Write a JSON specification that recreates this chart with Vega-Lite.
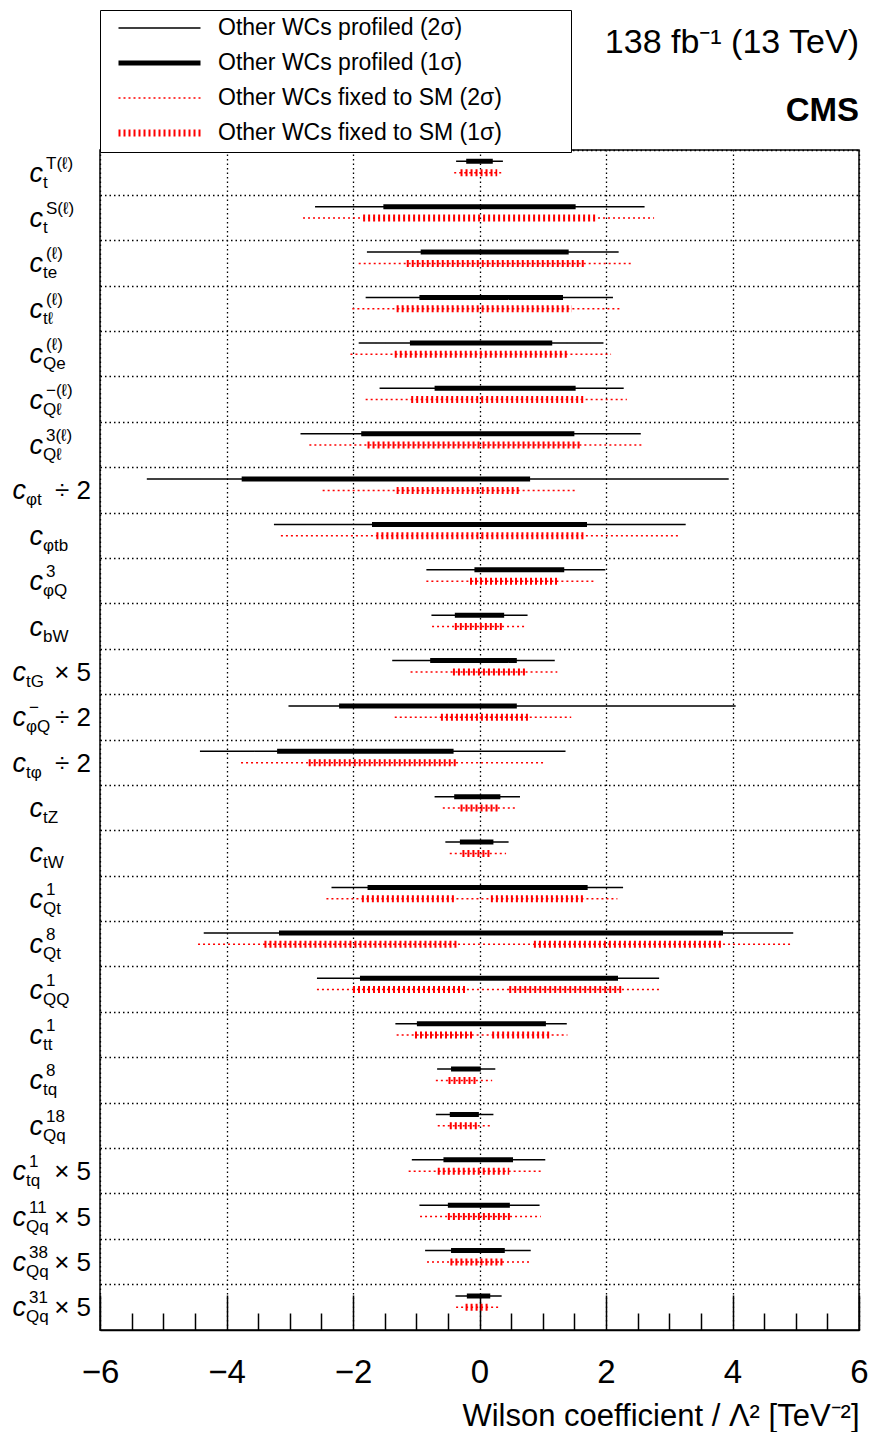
{
  "$schema": "https://vega.github.io/schema/vega-lite/v6.json",
  "width": 759,
  "height": 1180,
  "autosize": "none",
  "padding": {"left": 100, "top": 150, "right": 12, "bottom": 102},
  "background": "white",
  "title": {
    "text": "138 fb⁻¹ (13 TeV)",
    "subtitle": "CMS",
    "anchor": "end",
    "frame": "group",
    "orient": "top",
    "font": "Liberation Sans",
    "fontSize": 34,
    "fontWeight": "normal",
    "color": "black",
    "subtitleFont": "Liberation Sans",
    "subtitleFontSize": 33,
    "subtitleFontWeight": "bold",
    "subtitleColor": "black",
    "subtitlePadding": 35,
    "offset": -118
  },
  "config": {
    "view": {"stroke": "black", "strokeWidth": 1.5},
    "font": "Liberation Sans",
    "axis": {
      "labelFont": "Liberation Sans",
      "titleFont": "Liberation Sans",
      "labelColor": "black",
      "titleColor": "black",
      "tickColor": "black",
      "domainColor": "black",
      "gridColor": "black",
      "gridDash": [1.5, 3],
      "gridWidth": 1.3,
      "gridOpacity": 1
    },
    "axisY": {
      "labels": false,
      "ticks": false,
      "domain": false,
      "grid": true,
      "bandPosition": 0
    },
    "legend": {
      "labelFont": "Liberation Sans"
    }
  },
  "datasets": {
    "coefs": [
      {"id": "c_t^T(ℓ)", "sub": "t", "sup": "T(ℓ)", "suf": ""},
      {"id": "c_t^S(ℓ)", "sub": "t", "sup": "S(ℓ)", "suf": ""},
      {"id": "c_te^(ℓ)", "sub": "te", "sup": "(ℓ)", "suf": ""},
      {"id": "c_tℓ^(ℓ)", "sub": "tℓ", "sup": "(ℓ)", "suf": ""},
      {"id": "c_Qe^(ℓ)", "sub": "Qe", "sup": "(ℓ)", "suf": ""},
      {"id": "c_Qℓ^-(ℓ)", "sub": "Qℓ", "sup": "−(ℓ)", "suf": ""},
      {"id": "c_Qℓ^3(ℓ)", "sub": "Qℓ", "sup": "3(ℓ)", "suf": ""},
      {"id": "c_φt/2", "sub": "φt", "sup": "", "suf": "÷ 2"},
      {"id": "c_φtb", "sub": "φtb", "sup": "", "suf": ""},
      {"id": "c_φQ^3", "sub": "φQ", "sup": "3", "suf": ""},
      {"id": "c_bW", "sub": "bW", "sup": "", "suf": ""},
      {"id": "c_tG*5", "sub": "tG", "sup": "", "suf": "× 5"},
      {"id": "c_φQ^-/2", "sub": "φQ", "sup": "−", "suf": "÷ 2"},
      {"id": "c_tφ/2", "sub": "tφ", "sup": "", "suf": "÷ 2"},
      {"id": "c_tZ", "sub": "tZ", "sup": "", "suf": ""},
      {"id": "c_tW", "sub": "tW", "sup": "", "suf": ""},
      {"id": "c_Qt^1", "sub": "Qt", "sup": "1", "suf": ""},
      {"id": "c_Qt^8", "sub": "Qt", "sup": "8", "suf": ""},
      {"id": "c_QQ^1", "sub": "QQ", "sup": "1", "suf": ""},
      {"id": "c_tt^1", "sub": "tt", "sup": "1", "suf": ""},
      {"id": "c_tq^8", "sub": "tq", "sup": "8", "suf": ""},
      {"id": "c_Qq^18", "sub": "Qq", "sup": "18", "suf": ""},
      {"id": "c_tq^1*5", "sub": "tq", "sup": "1", "suf": "× 5"},
      {"id": "c_Qq^11*5", "sub": "Qq", "sup": "11", "suf": "× 5"},
      {"id": "c_Qq^38*5", "sub": "Qq", "sup": "38", "suf": "× 5"},
      {"id": "c_Qq^31*5", "sub": "Qq", "sup": "31", "suf": "× 5"}
    ],
    "intervals": [
      {"id": "c_t^T(ℓ)", "series": "Other WCs profiled (2σ)", "lo": -0.37, "hi": 0.37},
      {"id": "c_t^T(ℓ)", "series": "Other WCs profiled (1σ)", "lo": -0.21, "hi": 0.21},
      {"id": "c_t^T(ℓ)", "series": "Other WCs fixed to SM (2σ)", "lo": -0.40, "hi": 0.39},
      {"id": "c_t^T(ℓ)", "series": "Other WCs fixed to SM (1σ)", "lo": -0.30, "hi": 0.28},
      {"id": "c_t^S(ℓ)", "series": "Other WCs profiled (2σ)", "lo": -2.60, "hi": 2.61},
      {"id": "c_t^S(ℓ)", "series": "Other WCs profiled (1σ)", "lo": -1.52, "hi": 1.52},
      {"id": "c_t^S(ℓ)", "series": "Other WCs fixed to SM (2σ)", "lo": -2.79, "hi": 2.76},
      {"id": "c_t^S(ℓ)", "series": "Other WCs fixed to SM (1σ)", "lo": -1.84, "hi": 1.85},
      {"id": "c_te^(ℓ)", "series": "Other WCs profiled (2σ)", "lo": -1.78, "hi": 2.20},
      {"id": "c_te^(ℓ)", "series": "Other WCs profiled (1σ)", "lo": -0.93, "hi": 1.41},
      {"id": "c_te^(ℓ)", "series": "Other WCs fixed to SM (2σ)", "lo": -1.91, "hi": 2.40},
      {"id": "c_te^(ℓ)", "series": "Other WCs fixed to SM (1σ)", "lo": -1.15, "hi": 1.65},
      {"id": "c_tℓ^(ℓ)", "series": "Other WCs profiled (2σ)", "lo": -1.80, "hi": 2.11},
      {"id": "c_tℓ^(ℓ)", "series": "Other WCs profiled (1σ)", "lo": -0.95, "hi": 1.32},
      {"id": "c_tℓ^(ℓ)", "series": "Other WCs fixed to SM (2σ)", "lo": -2.01, "hi": 2.22},
      {"id": "c_tℓ^(ℓ)", "series": "Other WCs fixed to SM (1σ)", "lo": -1.31, "hi": 1.46},
      {"id": "c_Qe^(ℓ)", "series": "Other WCs profiled (2σ)", "lo": -1.91, "hi": 1.96},
      {"id": "c_Qe^(ℓ)", "series": "Other WCs profiled (1σ)", "lo": -1.10, "hi": 1.15},
      {"id": "c_Qe^(ℓ)", "series": "Other WCs fixed to SM (2σ)", "lo": -2.04, "hi": 2.08},
      {"id": "c_Qe^(ℓ)", "series": "Other WCs fixed to SM (1σ)", "lo": -1.34, "hi": 1.41},
      {"id": "c_Qℓ^-(ℓ)", "series": "Other WCs profiled (2σ)", "lo": -1.58, "hi": 2.28},
      {"id": "c_Qℓ^-(ℓ)", "series": "Other WCs profiled (1σ)", "lo": -0.71, "hi": 1.52},
      {"id": "c_Qℓ^-(ℓ)", "series": "Other WCs fixed to SM (2σ)", "lo": -1.80, "hi": 2.33},
      {"id": "c_Qℓ^-(ℓ)", "series": "Other WCs fixed to SM (1σ)", "lo": -1.08, "hi": 1.65},
      {"id": "c_Qℓ^3(ℓ)", "series": "Other WCs profiled (2σ)", "lo": -2.83, "hi": 2.55},
      {"id": "c_Qℓ^3(ℓ)", "series": "Other WCs profiled (1σ)", "lo": -1.87, "hi": 1.50},
      {"id": "c_Qℓ^3(ℓ)", "series": "Other WCs fixed to SM (2σ)", "lo": -2.69, "hi": 2.58},
      {"id": "c_Qℓ^3(ℓ)", "series": "Other WCs fixed to SM (1σ)", "lo": -1.77, "hi": 1.60},
      {"id": "c_φt/2", "series": "Other WCs profiled (2σ)", "lo": -5.26, "hi": 3.94},
      {"id": "c_φt/2", "series": "Other WCs profiled (1σ)", "lo": -3.76, "hi": 0.80},
      {"id": "c_φt/2", "series": "Other WCs fixed to SM (2σ)", "lo": -2.48, "hi": 1.55},
      {"id": "c_φt/2", "series": "Other WCs fixed to SM (1σ)", "lo": -1.31, "hi": 0.66},
      {"id": "c_φtb", "series": "Other WCs profiled (2σ)", "lo": -3.25, "hi": 3.26},
      {"id": "c_φtb", "series": "Other WCs profiled (1σ)", "lo": -1.70, "hi": 1.70},
      {"id": "c_φtb", "series": "Other WCs fixed to SM (2σ)", "lo": -3.14, "hi": 3.16},
      {"id": "c_φtb", "series": "Other WCs fixed to SM (1σ)", "lo": -1.63, "hi": 1.65},
      {"id": "c_φQ^3", "series": "Other WCs profiled (2σ)", "lo": -0.84, "hi": 1.99},
      {"id": "c_φQ^3", "series": "Other WCs profiled (1σ)", "lo": -0.08, "hi": 1.34},
      {"id": "c_φQ^3", "series": "Other WCs fixed to SM (2σ)", "lo": -0.84, "hi": 1.84},
      {"id": "c_φQ^3", "series": "Other WCs fixed to SM (1σ)", "lo": -0.15, "hi": 1.25},
      {"id": "c_bW", "series": "Other WCs profiled (2σ)", "lo": -0.76, "hi": 0.76},
      {"id": "c_bW", "series": "Other WCs profiled (1σ)", "lo": -0.39, "hi": 0.39},
      {"id": "c_bW", "series": "Other WCs fixed to SM (2σ)", "lo": -0.75, "hi": 0.71},
      {"id": "c_bW", "series": "Other WCs fixed to SM (1σ)", "lo": -0.39, "hi": 0.39},
      {"id": "c_tG*5", "series": "Other WCs profiled (2σ)", "lo": -1.38, "hi": 1.19},
      {"id": "c_tG*5", "series": "Other WCs profiled (1σ)", "lo": -0.78, "hi": 0.59},
      {"id": "c_tG*5", "series": "Other WCs fixed to SM (2σ)", "lo": -1.09, "hi": 1.23},
      {"id": "c_tG*5", "series": "Other WCs fixed to SM (1σ)", "lo": -0.42, "hi": 0.75},
      {"id": "c_φQ^-/2", "series": "Other WCs profiled (2σ)", "lo": -3.02, "hi": 4.05},
      {"id": "c_φQ^-/2", "series": "Other WCs profiled (1σ)", "lo": -2.22, "hi": 0.59},
      {"id": "c_φQ^-/2", "series": "Other WCs fixed to SM (2σ)", "lo": -1.34, "hi": 1.45},
      {"id": "c_φQ^-/2", "series": "Other WCs fixed to SM (1σ)", "lo": -0.61, "hi": 0.77},
      {"id": "c_tφ/2", "series": "Other WCs profiled (2σ)", "lo": -4.42, "hi": 1.36},
      {"id": "c_tφ/2", "series": "Other WCs profiled (1σ)", "lo": -3.20, "hi": -0.41},
      {"id": "c_tφ/2", "series": "Other WCs fixed to SM (2σ)", "lo": -3.77, "hi": 1.02},
      {"id": "c_tφ/2", "series": "Other WCs fixed to SM (1σ)", "lo": -2.70, "hi": -0.37},
      {"id": "c_tZ", "series": "Other WCs profiled (2σ)", "lo": -0.71, "hi": 0.64},
      {"id": "c_tZ", "series": "Other WCs profiled (1σ)", "lo": -0.40, "hi": 0.33},
      {"id": "c_tZ", "series": "Other WCs fixed to SM (2σ)", "lo": -0.58, "hi": 0.59},
      {"id": "c_tZ", "series": "Other WCs fixed to SM (1σ)", "lo": -0.30, "hi": 0.30},
      {"id": "c_tW", "series": "Other WCs profiled (2σ)", "lo": -0.54, "hi": 0.46},
      {"id": "c_tW", "series": "Other WCs profiled (1σ)", "lo": -0.31, "hi": 0.22},
      {"id": "c_tW", "series": "Other WCs fixed to SM (2σ)", "lo": -0.47, "hi": 0.42},
      {"id": "c_tW", "series": "Other WCs fixed to SM (1σ)", "lo": -0.27, "hi": 0.16},
      {"id": "c_Qt^1", "series": "Other WCs profiled (2σ)", "lo": -2.34, "hi": 2.27},
      {"id": "c_Qt^1", "series": "Other WCs profiled (1σ)", "lo": -1.77, "hi": 1.71},
      {"id": "c_Qt^1", "series": "Other WCs fixed to SM (2σ)", "lo": -2.42, "hi": 2.18},
      {"id": "c_Qt^1", "series": "Other WCs fixed to SM (1σ)", "lo": -1.86, "hi": -0.40},
      {"id": "c_Qt^1", "series": "Other WCs fixed to SM (1σ)", "lo": 0.18, "hi": 1.65},
      {"id": "c_Qt^8", "series": "Other WCs profiled (2σ)", "lo": -4.36, "hi": 4.96},
      {"id": "c_Qt^8", "series": "Other WCs profiled (1σ)", "lo": -3.17, "hi": 3.85},
      {"id": "c_Qt^8", "series": "Other WCs fixed to SM (2σ)", "lo": -4.45, "hi": 4.91},
      {"id": "c_Qt^8", "series": "Other WCs fixed to SM (1σ)", "lo": -3.40, "hi": -0.33},
      {"id": "c_Qt^8", "series": "Other WCs fixed to SM (1σ)", "lo": 0.86, "hi": 3.85},
      {"id": "c_QQ^1", "series": "Other WCs profiled (2σ)", "lo": -2.57, "hi": 2.84},
      {"id": "c_QQ^1", "series": "Other WCs profiled (1σ)", "lo": -1.89, "hi": 2.19},
      {"id": "c_QQ^1", "series": "Other WCs fixed to SM (2σ)", "lo": -2.57, "hi": 2.88},
      {"id": "c_QQ^1", "series": "Other WCs fixed to SM (1σ)", "lo": -2.00, "hi": -0.22},
      {"id": "c_QQ^1", "series": "Other WCs fixed to SM (1σ)", "lo": 0.47, "hi": 2.24},
      {"id": "c_tt^1", "series": "Other WCs profiled (2σ)", "lo": -1.33, "hi": 1.38},
      {"id": "c_tt^1", "series": "Other WCs profiled (1σ)", "lo": -0.99, "hi": 1.05},
      {"id": "c_tt^1", "series": "Other WCs fixed to SM (2σ)", "lo": -1.31, "hi": 1.39},
      {"id": "c_tt^1", "series": "Other WCs fixed to SM (1σ)", "lo": -1.02, "hi": -0.11},
      {"id": "c_tt^1", "series": "Other WCs fixed to SM (1σ)", "lo": 0.20, "hi": 1.11},
      {"id": "c_tq^8", "series": "Other WCs profiled (2σ)", "lo": -0.67, "hi": 0.25},
      {"id": "c_tq^8", "series": "Other WCs profiled (1σ)", "lo": -0.45, "hi": 0.02},
      {"id": "c_tq^8", "series": "Other WCs fixed to SM (2σ)", "lo": -0.69, "hi": 0.20},
      {"id": "c_tq^8", "series": "Other WCs fixed to SM (1σ)", "lo": -0.49, "hi": -0.02},
      {"id": "c_Qq^18", "series": "Other WCs profiled (2σ)", "lo": -0.69, "hi": 0.22},
      {"id": "c_Qq^18", "series": "Other WCs profiled (1σ)", "lo": -0.47, "hi": -0.01},
      {"id": "c_Qq^18", "series": "Other WCs fixed to SM (2σ)", "lo": -0.66, "hi": 0.20},
      {"id": "c_Qq^18", "series": "Other WCs fixed to SM (1σ)", "lo": -0.47, "hi": -0.02},
      {"id": "c_tq^1*5", "series": "Other WCs profiled (2σ)", "lo": -1.07, "hi": 1.04},
      {"id": "c_tq^1*5", "series": "Other WCs profiled (1σ)", "lo": -0.57, "hi": 0.53},
      {"id": "c_tq^1*5", "series": "Other WCs fixed to SM (2σ)", "lo": -1.12, "hi": 1.01},
      {"id": "c_tq^1*5", "series": "Other WCs fixed to SM (1σ)", "lo": -0.66, "hi": 0.47},
      {"id": "c_Qq^11*5", "series": "Other WCs profiled (2σ)", "lo": -0.95, "hi": 0.95},
      {"id": "c_Qq^11*5", "series": "Other WCs profiled (1σ)", "lo": -0.50, "hi": 0.48},
      {"id": "c_Qq^11*5", "series": "Other WCs fixed to SM (2σ)", "lo": -0.94, "hi": 0.97},
      {"id": "c_Qq^11*5", "series": "Other WCs fixed to SM (1σ)", "lo": -0.50, "hi": 0.52},
      {"id": "c_Qq^38*5", "series": "Other WCs profiled (2σ)", "lo": -0.86, "hi": 0.81},
      {"id": "c_Qq^38*5", "series": "Other WCs profiled (1σ)", "lo": -0.45, "hi": 0.40},
      {"id": "c_Qq^38*5", "series": "Other WCs fixed to SM (2σ)", "lo": -0.83, "hi": 0.83},
      {"id": "c_Qq^38*5", "series": "Other WCs fixed to SM (1σ)", "lo": -0.46, "hi": 0.37},
      {"id": "c_Qq^31*5", "series": "Other WCs profiled (2σ)", "lo": -0.38, "hi": 0.35},
      {"id": "c_Qq^31*5", "series": "Other WCs profiled (1σ)", "lo": -0.20, "hi": 0.17},
      {"id": "c_Qq^31*5", "series": "Other WCs fixed to SM (2σ)", "lo": -0.37, "hi": 0.33},
      {"id": "c_Qq^31*5", "series": "Other WCs fixed to SM (1σ)", "lo": -0.22, "hi": 0.16}
    ]
  },
  "layer": [
    {
      "data": {"name": "intervals"},
      "transform": [{"filter": {"field": "series", "equal": "Other WCs profiled (2σ)"}}],
      "mark": {"type": "rule", "strokeCap": "butt", "strokeWidth": 1.5},
      "encoding": {
        "y": {
          "field": "id", "type": "nominal", "bandPosition": 0.25, "title": null,
          "scale": {
            "domain": ["c_t^T(ℓ)", "c_t^S(ℓ)", "c_te^(ℓ)", "c_tℓ^(ℓ)", "c_Qe^(ℓ)", "c_Qℓ^-(ℓ)", "c_Qℓ^3(ℓ)", "c_φt/2", "c_φtb", "c_φQ^3", "c_bW", "c_tG*5", "c_φQ^-/2", "c_tφ/2", "c_tZ", "c_tW", "c_Qt^1", "c_Qt^8", "c_QQ^1", "c_tt^1", "c_tq^8", "c_Qq^18", "c_tq^1*5", "c_Qq^11*5", "c_Qq^38*5", "c_Qq^31*5"],
            "paddingInner": 0, "paddingOuter": 0
          }
        },
        "x": {
          "field": "lo", "type": "quantitative",
          "scale": {"domain": [-6, 6], "nice": false, "zero": false},
          "axis": {
            "orient": "bottom",
            "values": [-6, -4, -2, 0, 2, 4, 6],
            "grid": true,
            "tickSize": -35,
            "tickWidth": 1.5,
            "domainWidth": 1.5,
            "labelFontSize": 33,
            "labelPadding": 61,
            "labelFlush": false,
            "labelOverlap": false,
            "title": "Wilson coefficient / Λ² [TeV⁻²]",
            "titleFontSize": 31,
            "titleFontWeight": "normal",
            "titleAnchor": "end",
            "titlePadding": 12
          }
        },
        "x2": {"field": "hi"},
        "color": {
          "field": "series", "type": "nominal",
          "scale": {
            "domain": ["Other WCs profiled (2σ)", "Other WCs profiled (1σ)", "Other WCs fixed to SM (2σ)", "Other WCs fixed to SM (1σ)"],
            "range": ["black", "black", "#ff0000", "#ff0000"]
          },
          "legend": {
            "orient": "none",
            "legendX": 0,
            "legendY": -140,
            "title": " ",
            "titleOrient": "right",
            "titlePadding": 62,
            "symbolType": "stroke",
            "symbolSize": 6724,
            "symbolOffset": 41,
            "clipHeight": 22,
            "labelFontSize": 23,
            "labelColor": "black",
            "labelOffset": 47,
            "labelLimit": 400,
            "rowPadding": 12,
            "padding": 7,
            "strokeColor": "black",
            "fillColor": "white",
            "encode": {
              "symbols": {
                "update": {
                  "strokeWidth": {"signal": "datum.value === 'Other WCs profiled (1σ)' ? 5 : (datum.value === 'Other WCs fixed to SM (1σ)' ? 7 : 1.5)"}
                }
              }
            }
          }
        },
        "strokeDash": {
          "field": "series", "type": "nominal",
          "scale": {
            "domain": ["Other WCs profiled (2σ)", "Other WCs profiled (1σ)", "Other WCs fixed to SM (2σ)", "Other WCs fixed to SM (1σ)"],
            "range": [[1, 0], [1, 0], [2, 3], [2, 3]]
          }
        }
      }
    },
    {
      "data": {"name": "intervals"},
      "transform": [{"filter": {"field": "series", "equal": "Other WCs profiled (1σ)"}}],
      "mark": {"type": "rule", "strokeCap": "butt", "strokeWidth": 5},
      "encoding": {
        "y": {"field": "id", "type": "nominal", "bandPosition": 0.25, "title": null},
        "x": {"field": "lo", "type": "quantitative", "axis": null},
        "x2": {"field": "hi"},
        "color": {"field": "series", "type": "nominal"},
        "strokeDash": {"field": "series", "type": "nominal"}
      }
    },
    {
      "data": {"name": "intervals"},
      "transform": [{"filter": {"field": "series", "equal": "Other WCs fixed to SM (2σ)"}}],
      "mark": {"type": "rule", "strokeCap": "butt", "strokeWidth": 1.5},
      "encoding": {
        "y": {"field": "id", "type": "nominal", "bandPosition": 0.5, "title": null},
        "x": {
          "field": "lo", "type": "quantitative",
          "axis": {
            "orient": "bottom",
            "values": [-5.5, -5, -4.5, -3.5, -3, -2.5, -1.5, -1, -0.5, 0.5, 1, 1.5, 2.5, 3, 3.5, 4.5, 5, 5.5],
            "grid": false,
            "labels": false,
            "domain": false,
            "tickSize": -17,
            "tickWidth": 1.5,
            "title": null
          }
        },
        "x2": {"field": "hi"},
        "color": {"field": "series", "type": "nominal"},
        "strokeDash": {"field": "series", "type": "nominal"}
      }
    },
    {
      "data": {"name": "intervals"},
      "transform": [{"filter": {"field": "series", "equal": "Other WCs fixed to SM (1σ)"}}],
      "mark": {"type": "rule", "strokeCap": "butt", "strokeWidth": 7},
      "encoding": {
        "y": {"field": "id", "type": "nominal", "bandPosition": 0.5, "title": null},
        "x": {"field": "lo", "type": "quantitative", "axis": null},
        "x2": {"field": "hi"},
        "color": {"field": "series", "type": "nominal"},
        "strokeDash": {"field": "series", "type": "nominal"}
      }
    },
    {
      "data": {"name": "coefs"},
      "transform": [{"filter": {"field": "suf", "equal": ""}}],
      "mark": {"type": "text", "align": "right", "baseline": "alphabetic", "fontStyle": "italic", "fontSize": 27, "font": "Liberation Sans", "dy": 9, "color": "black"},
      "encoding": {
        "y": {"field": "id", "type": "nominal", "title": null},
        "x": {"value": -57},
        "text": {"value": "c"}
      }
    },
    {
      "data": {"name": "coefs"},
      "transform": [{"filter": {"field": "suf", "equal": ""}}],
      "mark": {"type": "text", "align": "left", "baseline": "alphabetic", "fontSize": 17, "font": "Liberation Sans", "dy": 15, "dx": 0, "color": "black"},
      "encoding": {
        "y": {"field": "id", "type": "nominal", "title": null},
        "x": {"value": -57},
        "text": {"field": "sub"}
      }
    },
    {
      "data": {"name": "coefs"},
      "transform": [{"filter": {"field": "suf", "equal": ""}}],
      "mark": {"type": "text", "align": "left", "baseline": "alphabetic", "fontSize": 17, "font": "Liberation Sans", "dy": -4, "dx": 3, "color": "black"},
      "encoding": {
        "y": {"field": "id", "type": "nominal", "title": null},
        "x": {"value": -57},
        "text": {"field": "sup"}
      }
    },
    {
      "data": {"name": "coefs"},
      "transform": [{"filter": {"not": {"field": "suf", "equal": ""}}}],
      "mark": {"type": "text", "align": "right", "baseline": "alphabetic", "fontStyle": "italic", "fontSize": 27, "font": "Liberation Sans", "dy": 9, "color": "black"},
      "encoding": {
        "y": {"field": "id", "type": "nominal", "title": null},
        "x": {"value": -74},
        "text": {"value": "c"}
      }
    },
    {
      "data": {"name": "coefs"},
      "transform": [{"filter": {"not": {"field": "suf", "equal": ""}}}],
      "mark": {"type": "text", "align": "left", "baseline": "alphabetic", "fontSize": 17, "font": "Liberation Sans", "dy": 15, "dx": 0, "color": "black"},
      "encoding": {
        "y": {"field": "id", "type": "nominal", "title": null},
        "x": {"value": -74},
        "text": {"field": "sub"}
      }
    },
    {
      "data": {"name": "coefs"},
      "transform": [{"filter": {"not": {"field": "suf", "equal": ""}}}],
      "mark": {"type": "text", "align": "left", "baseline": "alphabetic", "fontSize": 17, "font": "Liberation Sans", "dy": -4, "dx": 3, "color": "black"},
      "encoding": {
        "y": {"field": "id", "type": "nominal", "title": null},
        "x": {"value": -74},
        "text": {"field": "sup"}
      }
    },
    {
      "data": {"name": "coefs"},
      "transform": [{"filter": {"not": {"field": "suf", "equal": ""}}}],
      "mark": {"type": "text", "align": "right", "baseline": "alphabetic", "fontSize": 26, "font": "Liberation Sans", "dy": 9, "color": "black"},
      "encoding": {
        "y": {"field": "id", "type": "nominal", "title": null},
        "x": {"value": -9},
        "text": {"field": "suf"}
      }
    }
  ],
  "resolve": {"axis": {"x": "independent"}}
}
